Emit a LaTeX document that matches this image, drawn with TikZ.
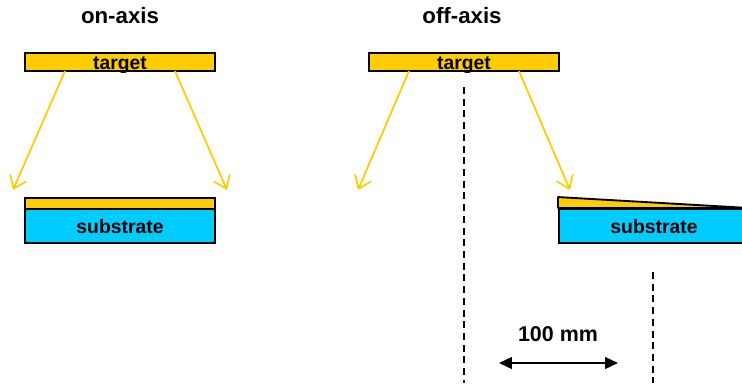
\documentclass[tikz,border=0pt]{standalone}
\usepackage{fontspec}
\setmainfont{Liberation Sans}
\usepackage{xcolor}
\usepackage{tikz}
\usetikzlibrary{arrows.meta}

\definecolor{gold}{RGB}{255,204,0}
\definecolor{skyblue}{RGB}{0,204,255}

\tikzset{
  plate/.style={draw, line width=1.6pt, inner sep=0pt, minimum width=5.7cm},
  flux/.style={gold, line width=1.5pt, -{Straight Barb[length=10pt,width=15pt]}},
  axisline/.style={line width=1.7pt, dash pattern=on 6pt off 4pt},
  lbl/.style={font=\bfseries\fontsize{16.5}{18}\selectfont, anchor=base, inner sep=0pt},
  title/.style={font=\bfseries\fontsize{19}{22}\selectfont, anchor=base, inner sep=0pt},
}

\begin{document}
\begin{tikzpicture}[x=0.03cm, y=-0.03cm]
            \useasboundingbox (0,0) rectangle (742,383);

            % on-axis
            \node[title] (onaxis) at (120,23) {on-axis};
            \node[plate, fill=gold, minimum height=0.54cm] (targetA) at (120,62) {};
            \node[lbl] (targettextA) at (120,69.5) {target};
            \node[plate, fill=gold, minimum height=0.33cm] (filmA) at (120,203.5) {};
            \node[plate, fill=skyblue, minimum height=1.02cm] (substrateA) at (120,226) {};
            \node[lbl] (subtextA) at (120,233) {substrate};

            \coordinate (fromA1) at (65,71);
            \coordinate (fromA2) at (175,71);
            \coordinate (toA1) at (13,190);
            \coordinate (toA2) at (227,190);
            \draw[flux] (fromA1) -- (toA1);
            \draw[flux] (fromA2) -- (toA2);

            % off-axis
            \node[title] (offaxis) at (462,23) {off-axis};
            \node[plate, fill=gold, minimum height=0.54cm] (targetB) at (464,62) {};
            \node[lbl] (targettextB) at (464,69.5) {target};
            \node[plate, fill=skyblue, minimum height=1.02cm] (substrateB) at (654,226) {};
            \filldraw[line width=1.6pt, line join=bevel, fill=gold] (substrateB.north west) -- ++(0,-11) -- (substrateB.north east) -- cycle;
            \node[lbl] (subtextB) at (654,233) {substrate};

            \coordinate (fromB1) at (409,71);
            \coordinate (fromB2) at (519,71);
            \coordinate (toB1) at (358,190);
            \coordinate (toB2) at (570,190);
            \draw[flux] (fromB1) -- (toB1);
            \draw[flux] (fromB2) -- (toB2);

            \coordinate (axisB1) at (464,87);
            \coordinate (axisB2) at (464,383);
            \coordinate (axisC1) at (653,272);
            \coordinate (axisC2) at (653,383);
            \draw[axisline] (axisB1) -- (axisB2);
            \draw[axisline] (axisC1) -- (axisC2);

            \coordinate (distL) at (499,363);
            \coordinate (distR) at (618,363);
            \draw[line width=1.7pt, {Triangle[length=11pt,width=10pt]}-{Triangle[length=11pt,width=10pt]}] (distL) -- (distR);
            \node[title, font=\bfseries\fontsize{18.3}{21}\selectfont] (dist) at (558,341) {100 mm};
        \end{tikzpicture}
\end{document}
